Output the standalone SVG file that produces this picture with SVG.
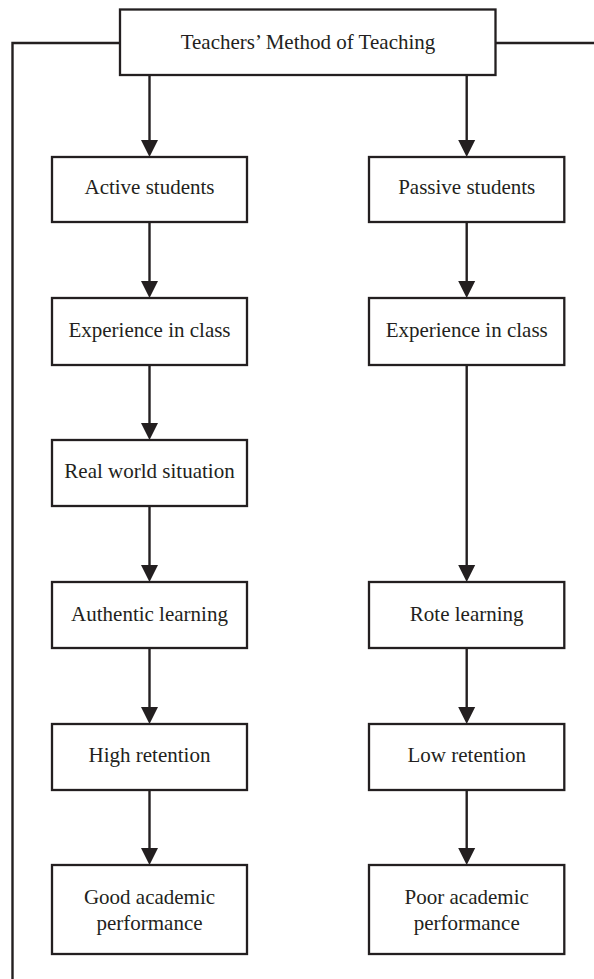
<svg xmlns="http://www.w3.org/2000/svg" width="594" height="979" viewBox="0 0 594 979">
<defs>
<style>
.box{fill:#fff;stroke:#231f20;stroke-width:2.3}
.t{font-family:"Liberation Serif","Times New Roman",serif;font-size:21px;fill:#231f20;text-anchor:middle}
.ln{fill:none;stroke:#231f20;stroke-width:2.4}
.ah{fill:#231f20}
</style>
</defs>
<g id="connectors">
<path class="ln" d="M120,43 H12.5 V979"/>
<path class="ln" d="M496,43 H594"/>
<g class="ln">
<line x1="149.5" y1="75" x2="149.5" y2="142"/>
<line x1="466.7" y1="75" x2="466.7" y2="142"/>
<line x1="149.5" y1="222" x2="149.5" y2="283"/>
<line x1="466.7" y1="222" x2="466.7" y2="283"/>
<line x1="149.5" y1="365" x2="149.5" y2="425"/>
<line x1="466.7" y1="365" x2="466.7" y2="567"/>
<line x1="149.5" y1="506" x2="149.5" y2="567"/>
<line x1="149.5" y1="648" x2="149.5" y2="709"/>
<line x1="466.7" y1="644" x2="466.7" y2="709"/>
<line x1="149.5" y1="790" x2="149.5" y2="850"/>
<line x1="466.7" y1="790" x2="466.7" y2="850"/>
</g>
<g class="ah">
<path d="M141,140 H158 L149.5,157 Z"/>
<path d="M458.2,140 H475.2 L466.7,157 Z"/>
<path d="M141,281 H158 L149.5,298 Z"/>
<path d="M458.2,281 H475.2 L466.7,298 Z"/>
<path d="M141,423 H158 L149.5,440 Z"/>
<path d="M458.2,565 H475.2 L466.7,582 Z"/>
<path d="M141,565 H158 L149.5,582 Z"/>
<path d="M141,707 H158 L149.5,724 Z"/>
<path d="M458.2,707 H475.2 L466.7,724 Z"/>
<path d="M141,848 H158 L149.5,865 Z"/>
<path d="M458.2,848 H475.2 L466.7,865 Z"/>
</g>
</g>
<g id="n-top"><rect class="box" x="120" y="9.5" width="375.5" height="65.5"/><text class="t" x="308" y="49">Teachers’ Method of Teaching</text></g>
<g id="n-active"><rect class="box" x="52" y="157" width="195" height="65"/><text class="t" x="149.5" y="194">Active students</text></g>
<g id="n-passive"><rect class="box" x="369" y="157" width="195.3" height="65"/><text class="t" x="466.7" y="194">Passive students</text></g>
<g id="n-exp-l"><rect class="box" x="52" y="298" width="195" height="67"/><text class="t" x="149.5" y="336.5">Experience in class</text></g>
<g id="n-exp-r"><rect class="box" x="369" y="298" width="195.3" height="67"/><text class="t" x="466.7" y="336.5">Experience in class</text></g>
<g id="n-real"><rect class="box" x="52" y="440" width="195" height="66"/><text class="t" x="149.5" y="478">Real world situation</text></g>
<g id="n-auth"><rect class="box" x="52" y="582" width="195" height="66"/><text class="t" x="149.5" y="620.5">Authentic learning</text></g>
<g id="n-rote"><rect class="box" x="369" y="582" width="195.3" height="66"/><text class="t" x="466.7" y="620.5">Rote learning</text></g>
<g id="n-high"><rect class="box" x="52" y="724" width="195" height="66"/><text class="t" x="149.5" y="762">High retention</text></g>
<g id="n-low"><rect class="box" x="369" y="724" width="195.3" height="66"/><text class="t" x="466.7" y="762">Low retention</text></g>
<g id="n-good"><rect class="box" x="52" y="865" width="195" height="89"/><text class="t" x="149.5" y="903.5">Good academic</text><text class="t" x="149.5" y="930">performance</text></g>
<g id="n-poor"><rect class="box" x="369" y="865" width="195.3" height="89"/><text class="t" x="466.7" y="903.5">Poor academic</text><text class="t" x="466.7" y="930">performance</text></g>
</svg>
